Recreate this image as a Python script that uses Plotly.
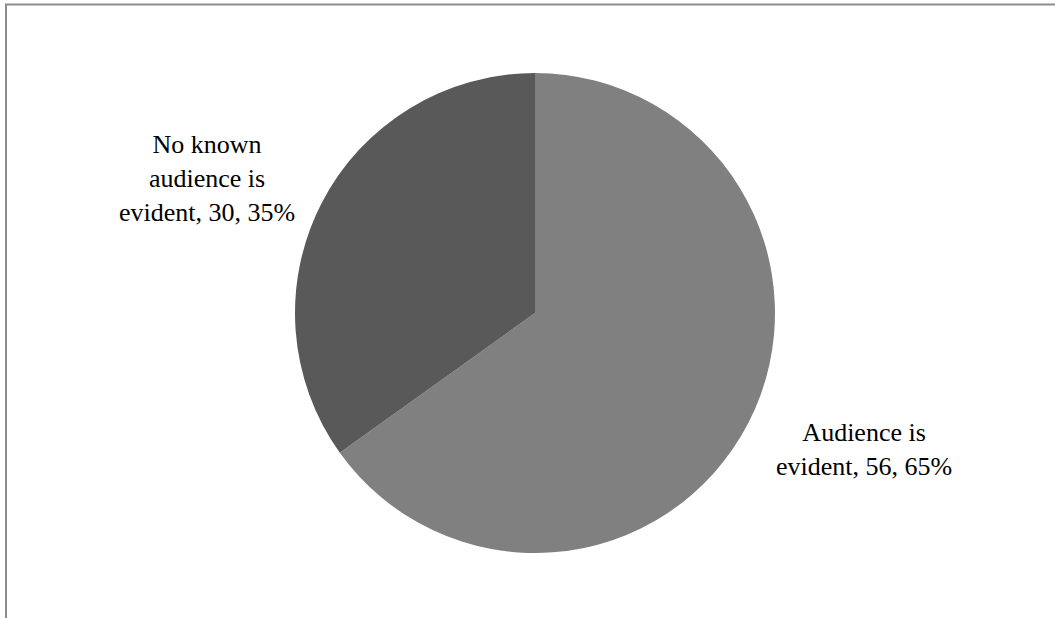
import plotly.graph_objects as go

categories = ["Audience is evident", "No known audience is evident"]
values = [56, 30]
colors = ["#808080", "#595959"]
label_lines = [["Audience is", "evident"], ["No known", "audience is", "evident"]]

W, H = 1055, 618
total = sum(values)

fig = go.Figure()
fig.add_trace(go.Pie(
    labels=categories,
    values=values,
    marker=dict(colors=colors, line=dict(width=0)),
    sort=False,
    direction="clockwise",
    rotation=0,
    textinfo="none",
    hoverinfo="label+value+percent",
    showlegend=False,
    domain=dict(x=[295 / W, 775 / W], y=[(H - 553) / H, (H - 73) / H]),
))

label_pos = [(864, 449), (207, 179)]
for lines, v, (px, py) in zip(label_lines, values, label_pos):
    pct = round(100 * v / total)
    text = "<br>".join(lines[:-1] + [f"{lines[-1]}, {v}, {pct}%"])
    fig.add_annotation(
        x=px / W, y=1 - py / H, xref="paper", yref="paper",
        text=text, showarrow=False, align="center",
        xanchor="center", yanchor="middle",
        font=dict(family="Times New Roman, Liberation Serif, serif", size=26, color="#000000"),
    )

border = "#8c8c8c"
fig.add_shape(type="line", xref="paper", yref="paper",
              x0=5 / W, x1=1.0, y0=1 - 4.5 / H, y1=1 - 4.5 / H,
              line=dict(color=border, width=2))
fig.add_shape(type="line", xref="paper", yref="paper",
              x0=6 / W, x1=6 / W, y0=0, y1=1 - 4 / H,
              line=dict(color=border, width=2))

fig.update_layout(
    width=W, height=H,
    margin=dict(l=0, r=0, t=0, b=0),
    paper_bgcolor="white",
    plot_bgcolor="white",
)

fig.write_html("out.html")
